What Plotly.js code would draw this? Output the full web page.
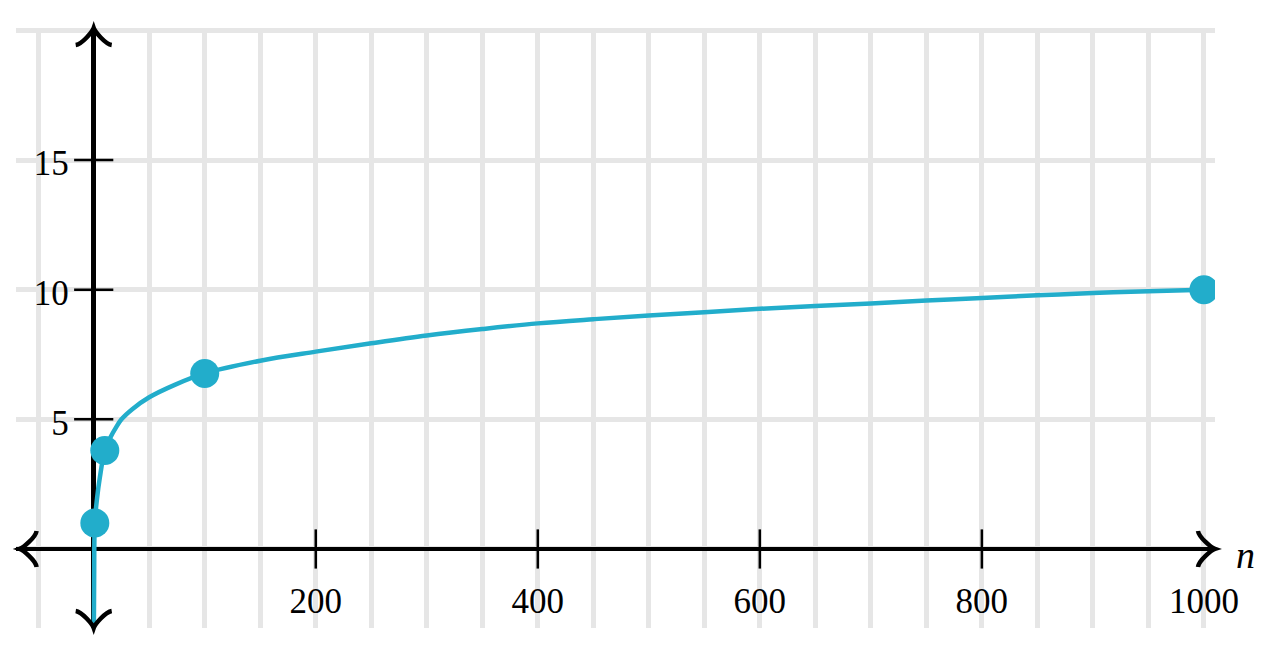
<!DOCTYPE html>
<html>
<head>
<meta charset="utf-8">
<script src="https://cdn.plot.ly/plotly-3.0.1.min.js"></script>
<style>html,body{margin:0;padding:0;background:#fff;}#chart{width:1274px;height:656px;}</style>
</head>
<body>
<div id="chart"></div>
<script>
// Curve values
var curveN = [0.1, 0.4, 1, 3, 5.5, 10, 15, 20, 25, 35, 50, 73, 100, 150, 200, 250, 300, 350, 400, 450, 500, 550, 600, 650, 700, 750, 800, 850, 900, 950, 1000];
var curveY = [-3.3, -1.0, 1.0, 1.95, 2.75, 3.8, 4.3, 4.68, 5.0, 5.4, 5.85, 6.33, 6.77, 7.26, 7.61, 7.93, 8.23, 8.48, 8.70, 8.86, 9.0, 9.13, 9.26, 9.37, 9.47, 9.58, 9.68, 9.78, 9.87, 9.94, 10.0];
// Highlighted points
var pointN = [1, 10, 100, 1000];
var pointY = [1, 3.8, 6.77, 10];
// Tick labels
var xTickVals = [200, 400, 600, 800, 1000];
var xTickText = ['200', '400', '600', '800', '1000'];
var xTickMarks = [200, 400, 600, 800];
var yTickVals = [5, 10, 15];
var yTickText = ['5', '10', '15'];

var cyan = '#22ADCB';
var grid = '#e6e6e6';

// arrowhead template (pointing right, tip at 0,0), pixel units
var arm = [[-17, 18], [-16, 11.5], [-3.5, 1.2], [0, 0], [-3.5, -1.2], [-16, -11.5], [-17, -18]];
function arrowPath(rot) {
  var pts = arm.map(function (p) {
    var x = p[0], y = p[1];
    if (rot === 'up') return [-y, x];
    if (rot === 'down') return [y, -x];
    if (rot === 'left') return [-x, -y];
    return [x, y];
  });
  var f = function (p) { return p[0] + ' ' + p[1]; };
  return 'M ' + f(pts[0]) + ' C ' + f(pts[1]) + ' ' + f(pts[2]) + ' ' + f(pts[3]) +
         ' C ' + f(pts[4]) + ' ' + f(pts[5]) + ' ' + f(pts[6]);
}
function arrowShape(rot, xref, xa, yref, ya) {
  return {type: 'path', layer: 'above', xref: xref, yref: yref,
    xsizemode: 'pixel', ysizemode: 'pixel', xanchor: xa, yanchor: ya,
    path: arrowPath(rot), line: {color: '#000', width: 4.5}, fillcolor: 'rgba(0,0,0,0)'};
}

var traces = [
  {x: curveN, y: curveY, mode: 'lines', line: {color: cyan, width: 4.5, shape: 'spline', smoothing: 1}, hoverinfo: 'skip'},
  {x: pointN, y: pointY, mode: 'markers', marker: {color: cyan, size: 29}, hoverinfo: 'skip'},
  {x: xTickMarks, y: xTickMarks.map(function () { return 0; }), mode: 'markers',
   marker: {symbol: 'line-ns-open', size: 28, color: '#000', line: {color: '#000', width: 2.5}}, hoverinfo: 'skip'},
  {x: yTickVals.map(function () { return 0; }), y: yTickVals, mode: 'markers',
   marker: {symbol: 'line-ew-open', size: 28, color: '#000', line: {color: '#000', width: 2.5}}, hoverinfo: 'skip'}
];

var tickFont = {family: 'Liberation Serif, serif', size: 35, color: '#000'};

var layout = {
  width: 1274, height: 656,
  margin: {l: 16, r: 59, t: 28, b: 28},
  paper_bgcolor: '#fff', plot_bgcolor: '#fff',
  showlegend: false,
  xaxis: {
    range: [-70, 1010], anchor: 'free', position: 79 / 600,
    tickmode: 'array', tickvals: xTickVals, ticktext: xTickText, ticks: '',
    tickfont: tickFont, ticklabelstandoff: 28,
    showgrid: true, gridcolor: grid, gridwidth: 5,
    minor: {tick0: 0, dtick: 50, showgrid: true, gridcolor: grid, gridwidth: 5, ticks: ''},
    zeroline: true, zerolinecolor: '#000', zerolinewidth: 4.5,
    showline: false, fixedrange: true
  },
  yaxis: {
    range: [-3.047, 20.09], anchor: 'free', position: 70 / 1080,
    tickmode: 'array', tickvals: yTickVals, ticktext: yTickText, ticks: '',
    tickfont: tickFont, ticklabelstandoff: 25, ticklabelshift: 3,
    showgrid: true, gridcolor: grid, gridwidth: 5,
    minor: {tick0: 0, dtick: 5, showgrid: true, gridcolor: grid, gridwidth: 5, ticks: ''},
    zeroline: true, zerolinecolor: '#000', zerolinewidth: 4.5,
    showline: false, fixedrange: true
  },
  shapes: [
    arrowShape('up', 'x', 0, 'paper', 1),
    arrowShape('down', 'x', 0, 'paper', 0),
    arrowShape('left', 'paper', 0.003, 'y', 0),
    arrowShape('right', 'paper', 1.0, 'y', 0)
  ],
  annotations: [{
    x: 1000, y: 0, xref: 'x', yref: 'y', xshift: 42, yshift: -6,
    text: '<i>n</i>', showarrow: false,
    font: {family: 'Liberation Serif, serif', size: 38, color: '#000'}
  }]
};

Plotly.newPlot('chart', traces, layout, {displayModeBar: false, staticPlot: true});
</script>
</body>
</html>
